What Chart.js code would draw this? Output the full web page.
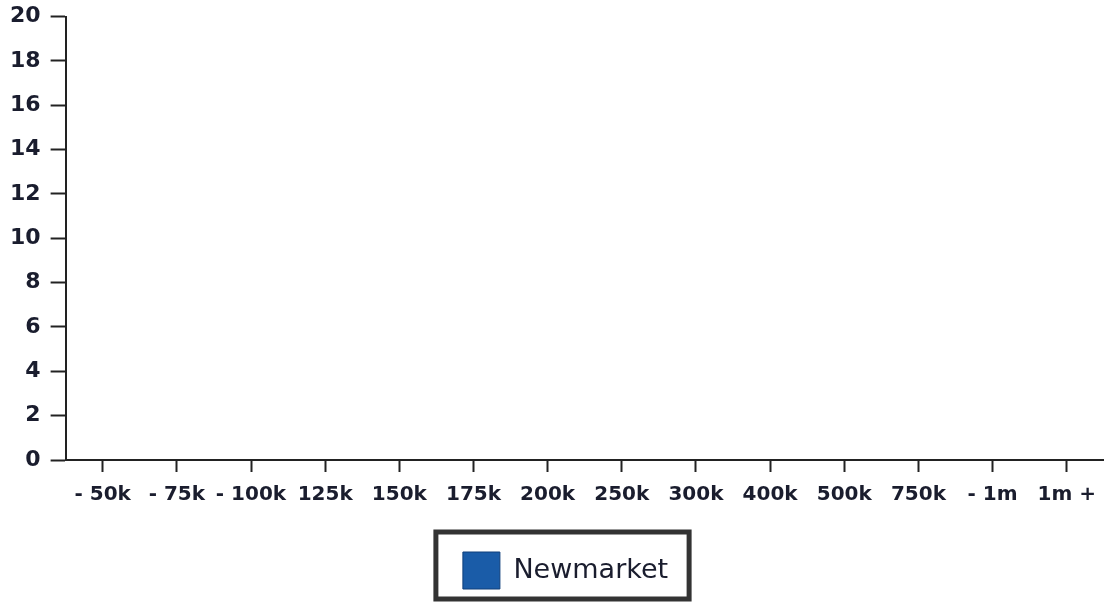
<!DOCTYPE html>
<html>
<head>
<meta charset="utf-8">
<script src="https://cdn.jsdelivr.net/npm/chart.js@4"></script>
<style>
  html, body { margin: 0; padding: 0; background: #fff; }
</style>
</head>
<body>
<canvas id="price-chart" width="1107" height="602"></canvas>
<script>
var priceBands = ['- 50k', '- 75k', '- 100k', '125k', '150k', '175k', '200k', '250k', '300k', '400k', '500k', '750k', '- 1m', '1m +'];

var newmarket = [0, 0, 0, 0, 0, 0, 0, 0, 0, 0, 0, 0, 0, 0];

var yTicks = [0, 2, 4, 6, 8, 10, 12, 14, 16, 18, 20];

// nudges the legend a little right and draws the dark frame round it
var legendFrame = {
   id: 'legendFrame',
   afterUpdate: function (chart) {
      var lg = chart.legend;
      lg.left += 12;
      lg.right += 12;
      lg.legendHitBoxes.forEach(function (b) { b.left += 12; });
   },
   afterDraw: function (chart) {
      var box = chart.legend.legendHitBoxes[0];
      if (!box) return;
      var ctx = chart.ctx;
      ctx.save();
      ctx.strokeStyle = '#333';
      ctx.lineWidth = 5;
      ctx.strokeRect(box.left - 27, box.top - 20, box.width + 48, 67);
      ctx.restore();
   }
};

var chart_id = document.getElementById('price-chart');

var pricechart = new Chart(chart_id, {
   type: 'bar',
   data: {
      labels: priceBands,
      datasets: [{
         label: 'Newmarket',
         data: newmarket,
         backgroundColor: '#1a5ca8',
         borderColor: '#0f3f7a',
         borderWidth: 1
      }]
   },
   options: {
      responsive: false,
      animation: false,
      layout: { padding: { top: 0, right: 0, left: 0, bottom: 3 } },
      scales: {
         x: {
            offset: true,
            afterFit: function (scale) { scale.height += 4; },
            grid: { offset: false, drawOnChartArea: false, tickLength: 12, color: '#222', tickWidth: 2 },
            border: { color: '#222', width: 2 },
            ticks: { color: '#1a1d2e', font: { family: 'DejaVu Sans', size: 20, weight: 'bold' }, maxRotation: 0, autoSkip: false, padding: 11 }
         },
         y: {
            min: 0,
            max: 20,
            afterBuildTicks: function (axis) {
               axis.ticks = yTicks.map(function (v) { return { value: v }; });
            },
            grid: { drawOnChartArea: false, tickLength: 15, color: '#222', tickWidth: 2 },
            border: { color: '#222', width: 2 },
            ticks: { color: '#1a1d2e', font: { family: 'DejaVu Sans', size: 22, weight: 'bold', lineHeight: 0.6 }, padding: 10 }
         }
      },
      plugins: {
         tooltip: { enabled: false },
         legend: {
            position: 'bottom',
            labels: {
               boxWidth: 37,
               boxHeight: 37,
               padding: 30,
               color: '#1a1d2e',
               font: { family: 'DejaVu Sans', size: 27 }
            }
         }
      }
   },
   plugins: [legendFrame]
});
</script>
</body>
</html>
